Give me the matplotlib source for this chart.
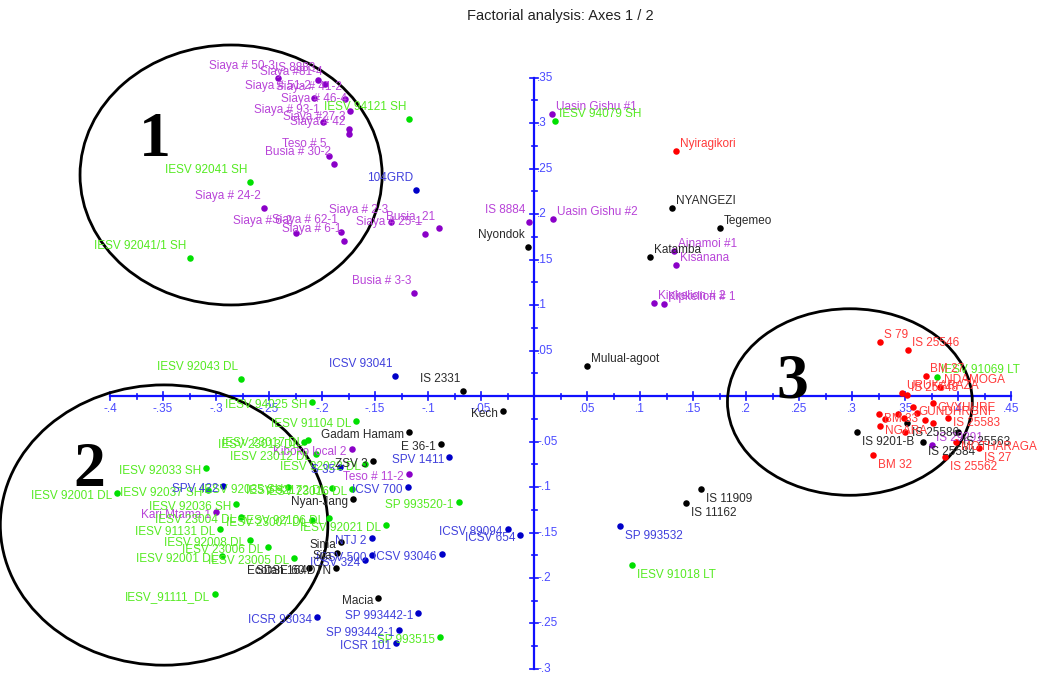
import numpy as np
import matplotlib.pyplot as plt
from matplotlib.patches import Ellipse

plt.rcParams['font.family'] = ['Liberation Sans', 'DejaVu Sans']

# =========================
# DATA (axis 1 / axis 2 coordinates)
# =========================
purple_names = ["Siaya # 50-3", "IS 8883", "Siaya #81-4", "Siaya # 51-2", "Siaya # 41-2",
                "Siaya # 46-4", "Siaya # 93-1", "Siaya #27-3", "Siaya # 42", "Teso # 5",
                "Busia # 30-2", "Siaya # 24-2", "Siaya # 6-2", "Siaya # 62-1", "Siaya # 6-1",
                "Siaya # 2-3", "Siaya # 25-1", "Busia_21", "Busia # 3-3", "Uasin Gishu #1",
                "IS 8884", "Uasin Gishu #2", "Ainamoi #1", "Kisanana", "Kipkelion # 2",
                "Kipkelion # 1", "Kiboko local 2", "Teso # 11-2", "Kari Mtama 1", "IS 29291"]
purple_x = [-0.242, -0.204, -0.197, -0.208, -0.178, -0.174, -0.199, -0.175, -0.175, -0.193,
            -0.189, -0.255, -0.225, -0.182, -0.179, -0.135, -0.103, -0.090, -0.113, 0.017,
            -0.005, 0.018, 0.132, 0.134, 0.113, 0.123, -0.172, -0.118, -0.300, 0.375]
purple_y = [0.349, 0.347, 0.343, 0.328, 0.326, 0.313, 0.301, 0.293, 0.288, 0.264,
            0.255, 0.207, 0.179, 0.180, 0.170, 0.191, 0.178, 0.185, 0.113, 0.310,
            0.191, 0.195, 0.159, 0.144, 0.102, 0.101, -0.058, -0.086, -0.128, -0.054]
purple_side = ["ul"] * 19 + ["ur", "ul", "ur", "ur", "ur", "ur", "ur", "l", "l", "l", "ur"]

green_names = ["IESV 94121 SH", "IESV 92041 SH", "IESV 92041/1 SH", "IESV 94079 SH",
               "IESV 92043 DL", "IESV 94025 SH", "IESV 91104 DL", "IESV 23013 DL",
               "IESV 23017 DL", "IESV 23012 DL", "IESV 92022 DL", "IESV 92172 DL",
               "IESV 23016 DL", "SP 993520-1", "IESV 92021 DL", "IESV 23007 DL",
               "IESV 92106 DL", "IESV 92001 DL", "IESV 92037 SH", "IESV 92035 SH",
               "IESV 92036 SH", "IESV 23004 DL", "IESV 91131 DL", "IESV 92008 DL",
               "IESV 23006 DL", "IESV 92001 DL", "IESV 23005 DL", "IESV_91111_DL",
               "IESV 92033 SH", "SP 993515", "IESV 91018 LT", "IESV 91069 LT"]
green_x = [-0.118, -0.268, -0.325, 0.020, -0.276, -0.209, -0.168, -0.217, -0.213, -0.206,
           -0.159, -0.191, -0.172, -0.071, -0.140, -0.209, -0.193, -0.393, -0.308, -0.232,
           -0.281, -0.276, -0.296, -0.268, -0.251, -0.294, -0.226, -0.301, -0.309, -0.089,
           0.092, 0.380]
green_y = [0.304, 0.235, 0.152, 0.302, 0.019, -0.007, -0.028, -0.050, -0.048, -0.064,
           -0.075, -0.101, -0.102, -0.117, -0.142, -0.136, -0.134, -0.107, -0.103, -0.100,
           -0.119, -0.133, -0.146, -0.158, -0.166, -0.176, -0.178, -0.218, -0.079, -0.265,
           -0.186, 0.021]
green_side = ["ul", "ul", "ul", "ur", "ul"] + ["l"] * 25 + ["br", "ur"]

blue_names = ["104GRD", "ICSV 93041", "SPV 1411", "S 35", "ICSV 700", "SPV 422", "NTJ 2",
              "ICSV 500", "ICSV 324", "ICSV 93046", "ICSV 89094", "ICSV 654", "SP 993532",
              "ICSR 93034", "SP 993442-1", "SP 993442-1", "ICSR 101"]
blue_x = [-0.111, -0.131, -0.080, -0.183, -0.119, -0.293, -0.153, -0.153, -0.159, -0.087,
          -0.025, -0.013, 0.081, -0.205, -0.109, -0.127, -0.130]
blue_y = [0.226, 0.022, -0.067, -0.078, -0.100, -0.099, -0.156, -0.175, -0.180, -0.174,
          -0.146, -0.153, -0.143, -0.243, -0.239, -0.257, -0.271]
blue_side = ["ul", "ul"] + ["l"] * 10 + ["br", "l", "l", "l", "l"]

black_names = ["NYANGEZI", "Tegemeo", "Nyondok", "Katamba", "Mulual-agoot", "IS 2331", "Kech",
               "Gadam Hamam", "E 36-1", "ZSV 3", "Nyan-Jang", "Sima", "Sila", "SDSE 60",
               "Ecotan 164DTN", "Macia", "IS 11909", "IS 11162", "IS 9201-B", "IS 25586",
               "IS 25563", "IS 25584"]
black_x = [0.130, 0.175, -0.006, 0.109, 0.050, -0.067, -0.029, -0.118, -0.088, -0.152,
           -0.171, -0.182, -0.186, -0.212, -0.187, -0.147, 0.158, 0.143, 0.305, 0.352,
           0.400, 0.367]
black_y = [0.207, 0.185, 0.164, 0.153, 0.033, 0.006, -0.017, -0.040, -0.053, -0.071,
           -0.113, -0.160, -0.173, -0.189, -0.189, -0.222, -0.102, -0.118, -0.040, -0.030,
           -0.040, -0.050]
black_side = ["ur", "ur", "ul", "ur", "ur", "ul"] + ["l"] * 10 + ["br"] * 6

red_names = ["Nyiragikori", "S 79", "IS 25546", "BM 27", "NDAMOGA", "URUKARAZA", "IS 25548",
             "GVYHURE", "GUNDHRGNI", "BM 33", "IS 25583", "NGARA", "", "", "", "", "", "",
             "", "MOTHARAGA", "IS 27", "BM 32", "IS 25562"]
red_x = [0.134, 0.326, 0.353, 0.370, 0.383, 0.347, 0.352, 0.376, 0.358, 0.325, 0.391,
         0.326, 0.343, 0.331, 0.349, 0.361, 0.369, 0.376, 0.350, 0.398, 0.420, 0.320, 0.388]
red_y = [0.269, 0.059, 0.051, 0.022, 0.010, 0.003, 0.001, -0.008, -0.012, -0.020, -0.024,
         -0.033, -0.020, -0.025, -0.024, -0.019, -0.026, -0.030, -0.040, -0.050, -0.057,
         -0.065, -0.067]
red_side = ["ur"] * 7 + ["r"] * 5 + [""] * 7 + ["r", "br", "br", "br"]

groups = [
    (purple_names, purple_x, purple_y, purple_side, "#8a00c8", "#b844d8"),
    (green_names, green_x, green_y, green_side, "#00e000", "#55ea22"),
    (blue_names, blue_x, blue_y, blue_side, "#0000c8", "#4040dc"),
    (black_names, black_x, black_y, black_side, "#000000", "#2a2a2a"),
    (red_names, red_x, red_y, red_side, "#ff0000", "#ff3a3a"),
]

# label offsets in pixels (dx, dy up, ha)
offsets = {
    "ul": (-3, 12, "right"),
    "ur": (4, 7, "left"),
    "l": (-5, -3, "right"),
    "r": (5, -5, "left"),
    "br": (5, -10, "left"),
}

# =========================
# FIGURE
# =========================
fig = plt.figure(figsize=(10.41, 6.75), dpi=100)
ax = fig.add_axes([0, 0, 1, 1])
ax.set_xlim(-0.5038, 0.4783)
ax.set_ylim(-0.3066, 0.4352)
ax.axis("off")

axis_col = "#1010ff"
tick_col = "#4a4aff"
ax.plot([-0.4, 0.45], [0, 0], color=axis_col, lw=1.6, zorder=1)
ax.plot([0, 0], [-0.3, 0.35], color=axis_col, lw=1.6, zorder=1)

def fmt(v):
    s = f"{v:.2f}".rstrip("0")
    return s.replace("0.", ".")

# x axis ticks
for t in np.arange(-0.4, 0.451, 0.025):
    t = round(t, 3)
    major = abs(round(t / 0.05) * 0.05 - t) < 1e-6
    h = 4 if major else 2.5
    ax.plot([t, t], [-h / 910, h / 910], color=axis_col, lw=1.2, zorder=1)
    if major and abs(t) > 1e-6:
        ax.annotate(fmt(t), (t, 0), xytext=(0, -13), textcoords="offset pixels",
                    ha="center", va="center", fontsize=8.5, color=tick_col)

# y axis ticks
for t in np.arange(-0.3, 0.351, 0.025):
    t = round(t, 3)
    major = abs(round(t / 0.05) * 0.05 - t) < 1e-6
    h = 4 if major else 2.5
    ax.plot([-h / 1060, h / 1060], [t, t], color=axis_col, lw=1.2, zorder=1)
    if major and abs(t) > 1e-6:
        ax.annotate(fmt(t), (0, t), xytext=(3, 0), textcoords="offset pixels",
                    ha="left", va="center", fontsize=8.5, color=tick_col)

for names, xs, ys, sides, dot_c, txt_c in groups:
    ax.scatter(xs, ys, s=22, color=dot_c, zorder=3, linewidths=0)
    for n, x, y, sd in zip(names, xs, ys, sides):
        if not n:
            continue
        dx, dy, ha = offsets[sd]
        ax.annotate(n, (x, y), xytext=(dx, dy), textcoords="offset pixels",
                    ha=ha, va="center", fontsize=8.5, color=txt_c, zorder=4)

# group circles
for cx, cy, w, h in [(-0.2858, 0.2429, 0.285, 0.2857),
                     (-0.349, -0.1418, 0.309, 0.308),
                     (0.298, -0.0066, 0.231, 0.205)]:
    ax.add_patch(Ellipse((cx, cy), w, h, fill=False, ec="black", lw=2, zorder=2))

for lab, x, y in [("1", -0.3575, 0.2800), ("2", -0.4198, -0.0824), ("3", 0.2434, 0.0150)]:
    ax.text(x, y, lab, fontsize=46, fontweight="bold", family="Liberation Serif",
            ha="center", va="center", zorder=5)

fig.text(0.538, 0.977, "Factorial analysis: Axes 1 / 2", ha="center", va="center",
         fontsize=10.5, color="#222222")

fig.savefig("out.png", dpi=100)
